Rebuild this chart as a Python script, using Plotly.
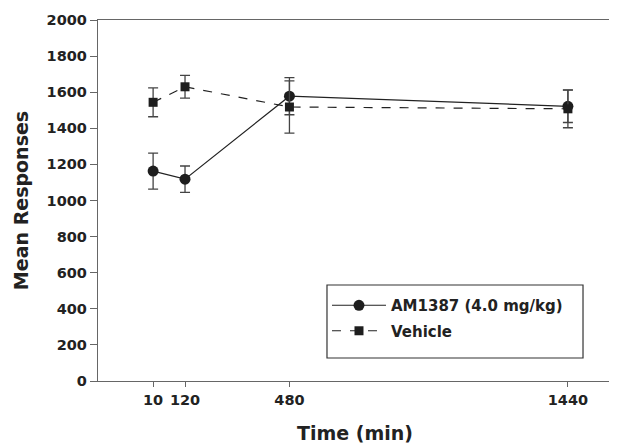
import plotly.graph_objects as go

times = [10, 120, 480, 1440]
am_mean = [1163, 1118, 1578, 1522]
am_err = [100, 73, 103, 90]
veh_mean = [1544, 1630, 1518, 1508]
veh_err = [80, 63, 145, 105]
x_ticks = [10, 120, 480, 1440]
y_ticks = list(range(0, 2001, 200))

fig = go.Figure()
fig.add_trace(go.Scatter(
    x=times, y=am_mean, name="AM1387 (4.0 mg/kg)", mode="lines+markers",
    legendgroup="a",
    line=dict(color="#222222", width=1.2),
    marker=dict(symbol="circle", size=11, color="#1e1e1e"),
    error_y=dict(type="data", array=am_err, color="#444444", thickness=1.3, width=5),
))
fig.add_trace(go.Scatter(
    x=times, y=veh_mean, name="Vehicle", mode="lines+markers",
    legendgroup="b",
    line=dict(color="#222222", width=1.2, dash="dash"),
    marker=dict(symbol="square", size=9, color="#1e1e1e"),
    error_y=dict(type="data", array=veh_err, color="#444444", thickness=1.3, width=5),
))

# legend frame
fig.add_shape(type="rect", xref="paper", yref="paper",
              x0=0.4455, x1=0.9436, y0=0.0637, y1=0.2659,
              line=dict(color="#333333", width=1.2), fillcolor="rgba(0,0,0,0)", layer="below")

font_family = "DejaVu Sans, sans-serif"
fig.update_layout(
    width=609, height=438,
    margin=dict(l=90, r=5, t=12, b=65),
    plot_bgcolor="white", paper_bgcolor="white",
    font=dict(family=font_family, color="#222222"),
    showlegend=True,
    legend=dict(
        x=0.4455, y=0.2548, xanchor="left", yanchor="top",
        borderwidth=0, bgcolor="rgba(0,0,0,0)",
        font=dict(size=15, family=font_family, color="#222222", weight="bold"),
        traceorder="grouped", tracegroupgap=3, itemwidth=54,
    ),
    xaxis=dict(
        range=[-180, 1592], tickmode="array", tickvals=x_ticks,
        ticktext=[str(t) for t in x_ticks],
        showgrid=False, zeroline=False, showline=True, linecolor="#666666", linewidth=1.3,
        mirror=True, ticks="outside", ticklen=5, tickcolor="#666666",
        tickfont=dict(size=14.5, weight="bold", family=font_family),
        title=dict(text="Time (min)", font=dict(size=19, weight="bold", family=font_family), standoff=20),
    ),
    yaxis=dict(
        range=[0, 2000], tickmode="array", tickvals=y_ticks,
        showgrid=False, zeroline=False, showline=True, linecolor="#666666", linewidth=1.3,
        mirror=True, ticks="outside", ticklen=7, tickcolor="#666666",
        tickfont=dict(size=14.5, weight="bold", family=font_family),
        title=dict(text="Mean Responses", font=dict(size=19, weight="bold", family=font_family), standoff=12),
    ),
)
fig.write_html("out.html")
